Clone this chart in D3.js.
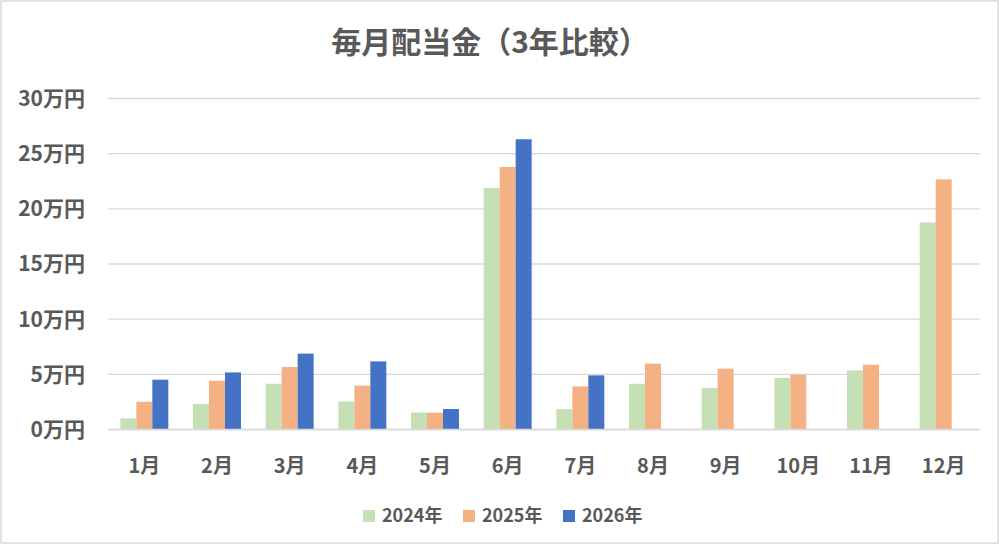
<!DOCTYPE html>
<html>
<head>
<meta charset="utf-8">
<script src="https://cdn.jsdelivr.net/npm/d3@7"></script>
<style>
  body { margin: 0; background: #fff; }
  text { font-family: "Noto Sans CJK JP", "Noto Sans", sans-serif; fill: #595959; font-weight: bold; }
</style>
</head>
<body>
<div id="chart"></div>
<script>
// Data (万円)
var months = ["1月", "2月", "3月", "4月", "5月", "6月", "7月", "8月", "9月", "10月", "11月", "12月"];
var seriesNames = ["2024年", "2025年", "2026年"];
var values2024 = [0.97, 2.27, 4.1, 2.5, 1.5, 21.85, 1.8, 4.1, 3.72, 4.62, 5.31, 18.73];
var values2025 = [2.47, 4.38, 5.62, 3.93, 1.48, 23.75, 3.86, 5.92, 5.47, 4.92, 5.83, 22.63];
var values2026 = [4.47, 5.13, 6.83, 6.13, 1.81, 26.26, 4.86, null, null, null, null, null];
var yTicks = [0, 5, 10, 15, 20, 25, 30];
var colors = ["#c5e0b4", "#f4b183", "#4472c4"];

var W = 1000, H = 545;
var plot = { left: 108, right: 980, top: 98, bottom: 429 };

var svg = d3.select("#chart").append("svg")
  .attr("width", W)
  .attr("height", H);

// outer border
svg.append("rect")
  .attr("x", 1).attr("y", 1)
  .attr("width", W - 3).attr("height", H - 3)
  .attr("fill", "#fff")
  .attr("stroke", "#d9d9d9")
  .attr("stroke-width", 1.5);

var x0 = d3.scaleBand()
  .domain(months)
  .range([plot.left, plot.right])
  .paddingInner(0.34)
  .paddingOuter(0.17);

var x1 = d3.scaleBand()
  .domain(seriesNames)
  .range([0, x0.bandwidth()]);

var y = d3.scaleLinear()
  .domain([0, 30])
  .range([plot.bottom, plot.top]);

// gridlines
var yAxis = d3.axisLeft(y)
  .tickValues(yTicks)
  .tickSize(-(plot.right - plot.left))
  .tickPadding(23)
  .tickFormat(function(d) { return d + "万円"; });

var gy = svg.append("g")
  .attr("transform", "translate(" + plot.left + ",0)")
  .call(yAxis);
gy.select(".domain").remove();
gy.selectAll(".tick line").attr("stroke", "#d9d9d9").attr("stroke-width", 1.3);
gy.selectAll(".tick text").style("font-size", "21px").attr("dy", "0.35em");

// bars
var allSeries = [values2024, values2025, values2026];
var rows = [];
months.forEach(function(m, i) {
  allSeries.forEach(function(s, j) {
    if (s[i] != null) rows.push({ month: m, series: seriesNames[j], value: s[i], color: colors[j] });
  });
});

svg.append("g").selectAll("rect")
  .data(rows)
  .enter().append("rect")
  .attr("x", function(d) { return x0(d.month) + x1(d.series); })
  .attr("y", function(d) { return y(d.value); })
  .attr("width", x1.bandwidth())
  .attr("height", function(d) { return y(0) - y(d.value); })
  .attr("fill", function(d) { return d.color; });

// x axis
var xAxis = d3.axisBottom(x0).tickSize(0).tickPadding(0);
var gx = svg.append("g")
  .attr("transform", "translate(0," + plot.bottom + ")")
  .call(xAxis);
gx.select(".domain").attr("stroke", "#d9d9d9").attr("stroke-width", 1.3);
gx.selectAll(".tick text")
  .style("font-size", "20px")
  .attr("y", 37)
  .attr("dy", "0.35em");

// title
svg.append("text")
  .attr("x", 490)
  .attr("y", 42)
  .attr("dy", "0.35em")
  .attr("text-anchor", "middle")
  .style("font-size", "30px")
  .text("毎月配当金（3年比較）");

// legend
var legendX = [363, 463, 563];
var legend = svg.append("g").selectAll("g")
  .data(seriesNames)
  .enter().append("g")
  .attr("transform", function(d, i) { return "translate(" + legendX[i] + ",516)"; });

legend.append("rect")
  .attr("x", 0).attr("y", -6)
  .attr("width", 12).attr("height", 12)
  .attr("fill", function(d, i) { return colors[i]; });

legend.append("text")
  .attr("x", 19)
  .attr("y", 0)
  .attr("dy", "0.35em")
  .style("font-size", "18px")
  .text(function(d) { return d; });
</script>
</body>
</html>
